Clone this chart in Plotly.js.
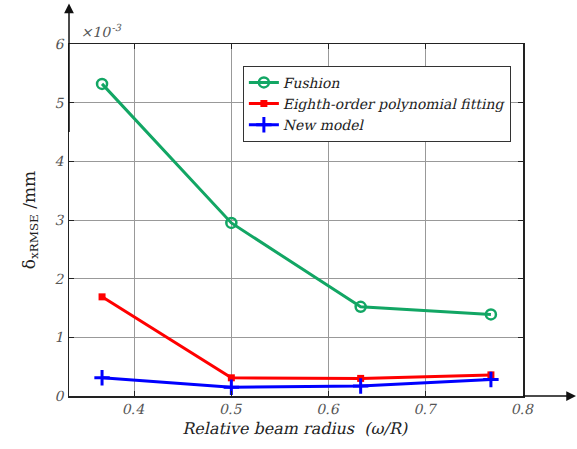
<!DOCTYPE html>
<html><head><meta charset="utf-8">
<script src="https://cdn.plot.ly/plotly-3.0.1.min.js"></script>
<style>html,body{margin:0;padding:0;background:#fff}#c{width:577px;height:449px}</style>
</head><body><div id="c"></div>
<script>
const xVals = [0.367, 0.5, 0.633, 0.767];
const fushion = [5.32, 2.95, 1.52, 1.39];
const eighth = [1.69, 0.31, 0.30, 0.36];
const newModel = [0.31, 0.15, 0.17, 0.28];
const xTicks = [0.4, 0.5, 0.6, 0.7, 0.8];
const yTicks = [0, 1, 2, 3, 4, 5, 6];
const seriesNames = ['Fushion', 'Eighth-order polynomial fitting', 'New model'];

const SERIF = "DejaVu Serif";
const traces = [
  {x: xVals, y: fushion, name: seriesNames[0], mode: 'lines+markers',
   line: {color: '#12a664', width: 3},
   marker: {symbol: 'circle-open', size: 10, color: '#12a664', line: {width: 2.5, color: '#12a664'}}},
  {x: xVals, y: eighth, name: seriesNames[1], mode: 'lines+markers',
   line: {color: '#ff0000', width: 3},
   marker: {symbol: 'square', size: 7, color: '#ff0000'}},
  {x: xVals, y: newModel, name: seriesNames[2], mode: 'lines+markers',
   line: {color: '#0000ff', width: 3},
   marker: {symbol: 'cross-thin-open', size: 11, color: '#0000ff', line: {width: 3, color: '#0000ff'}}}
];
const layout = {
  width: 577, height: 449,
  margin: {l: 69, r: 54, t: 44, b: 53},
  paper_bgcolor: '#fff', plot_bgcolor: '#fff',
  font: {family: SERIF},
  showlegend: true,
  legend: {x: 0.383, y: 0.938, xanchor: 'left', yanchor: 'top', bgcolor: '#fff',
    bordercolor: '#333', borderwidth: 1, font: {family: SERIF, size: 14, color: '#222'},
    tracegroupgap: 0, itemwidth: 30},
  xaxis: {range: [0.333, 0.8], tickvals: xTicks, ticktext: xTicks.map(String),
    showgrid: true, gridcolor: '#999', gridwidth: 1, zeroline: false,
    showline: true, linecolor: '#222', linewidth: 1.5, mirror: 'ticks',
    ticks: 'inside', ticklen: 5, tickcolor: '#222',
    tickfont: {family: SERIF, size: 14, color: '#555'},
    title: {text: 'Relative beam radius  (ω/R)', font: {family: SERIF, size: 16, color: '#222'}, standoff: 6}},
  yaxis: {range: [0, 6], tickvals: yTicks, ticktext: yTicks.map(String),
    showgrid: true, gridcolor: '#999', gridwidth: 1, zeroline: false,
    showline: true, linecolor: '#222', linewidth: 1.5, mirror: 'ticks',
    ticks: 'inside', ticklen: 5, tickcolor: '#222',
    tickfont: {family: SERIF, size: 14, color: '#555'},
    title: {text: 'δ<sub>xRMSE</sub> /mm', font: {family: SERIF, size: 17, color: '#222'}, standoff: 16}},
  annotations: [
    {xref: 'paper', yref: 'paper', x: 0.025, y: 1.005, xanchor: 'left', yanchor: 'bottom',
     text: '×10<sup>-3</sup>', showarrow: false, font: {family: SERIF, size: 14, color: '#555'}},
    {xref: 'paper', yref: 'paper', x: 0, y: 1.115, ax: 0, ay: 130,
     showarrow: true, arrowhead: 2, arrowsize: 1.3, arrowwidth: 1.5, arrowcolor: '#111', text: ''},
    {xref: 'paper', yref: 'paper', x: 1.12, y: 0, ax: -56, ay: 0,
     showarrow: true, arrowhead: 2, arrowsize: 1.3, arrowwidth: 1.5, arrowcolor: '#111', text: ''}
  ]
};
function slant(el) {
  const b = el.getBBox();
  if (!b.width) return;
  const cx = b.x + b.width / 2, cy = b.y + b.height / 2;
  const t = el.getAttribute('transform') || '';
  el.setAttribute('transform', t + ' translate(' + cx + ',' + cy + ') skewX(-13) translate(' + (-cx) + ',' + (-cy) + ')');
}
Plotly.newPlot('c', traces, layout, {displayModeBar: false, staticPlot: true}).then(gd => {
  const sel = ['.xtick text', '.ytick text', '.legendtext', '.g-xtitle text', '.annotation-text'];
  sel.forEach(s => gd.querySelectorAll(s).forEach(slant));
});
</script></body></html>
